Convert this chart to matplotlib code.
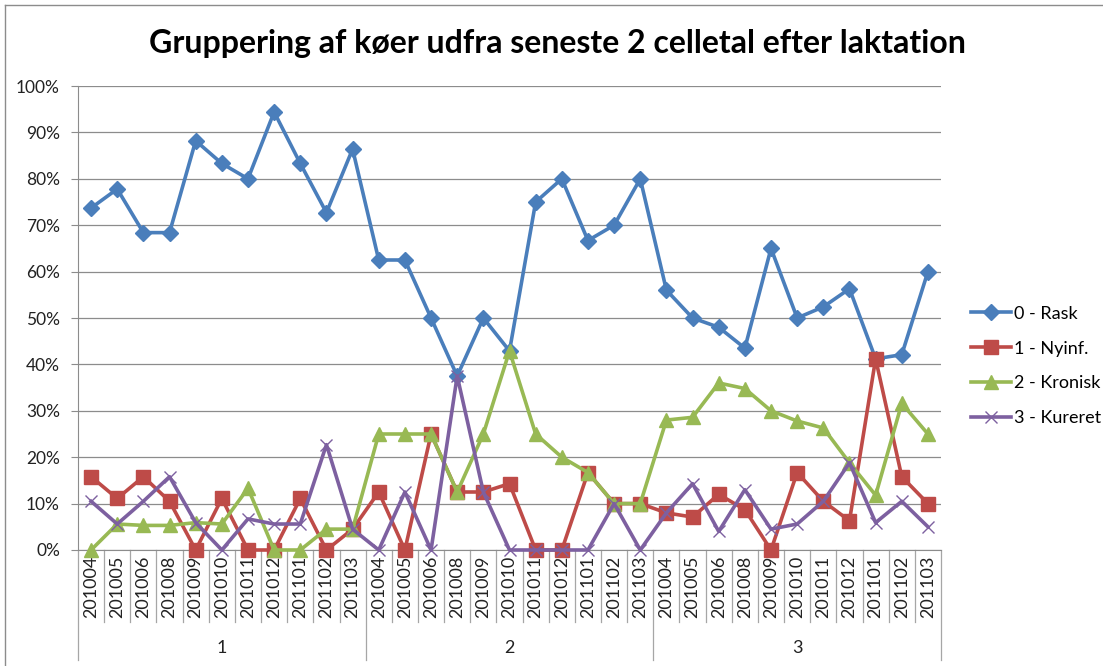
import numpy as np
import matplotlib
matplotlib.use("Agg")
import matplotlib.pyplot as plt
import matplotlib.transforms as mtransforms
from matplotlib.lines import Line2D
from matplotlib.ticker import PercentFormatter

# categories: 3 lactation groups x 11 months
months = ["201004", "201005", "201006", "201008", "201009", "201010",
          "201011", "201012", "201101", "201102", "201103"]
groups = ["1", "2", "3"]

# values in percent
rask = [73.7, 77.8, 68.4, 68.4, 88.2, 83.3, 80.0, 94.4, 83.3, 72.7, 86.4,
        62.5, 62.5, 50.0, 37.5, 50.0, 42.9, 75.0, 80.0, 66.7, 70.0, 80.0,
        56.0, 50.0, 48.0, 43.5, 65.0, 50.0, 52.4, 56.3, 41.2, 42.1, 60.0]
nyinf = [15.8, 11.1, 15.8, 10.5, 0.0, 11.1, 0.0, 0.0, 11.1, 0.0, 4.5,
         12.5, 0.0, 25.0, 12.5, 12.5, 14.3, 0.0, 0.0, 16.7, 10.0, 10.0,
         8.0, 7.1, 12.0, 8.7, 0.0, 16.7, 10.5, 6.3, 41.2, 15.8, 10.0]
kronisk = [0.0, 5.6, 5.3, 5.3, 5.9, 5.6, 13.3, 0.0, 0.0, 4.5, 4.5,
           25.0, 25.0, 25.0, 12.5, 25.0, 42.9, 25.0, 20.0, 16.7, 10.0, 10.0,
           28.0, 28.6, 36.0, 34.8, 30.0, 27.8, 26.3, 18.8, 11.8, 31.6, 25.0]
kureret = [10.5, 5.6, 10.5, 15.8, 5.9, 0.0, 6.7, 5.6, 5.6, 22.7, 4.5,
           0.0, 12.5, 0.0, 37.5, 12.5, 0.0, 0.0, 0.0, 0.0, 10.0, 0.0,
           8.0, 14.3, 4.0, 13.0, 4.5, 5.6, 10.5, 18.8, 5.9, 10.5, 5.0]

plt.rcParams['font.family'] = ['Lato', 'DejaVu Sans']

fig = plt.figure(figsize=(11.03, 6.66), dpi=100)
ax = fig.add_axes([78 / 1103, 116 / 666, 863 / 1103, 464 / 666])

x = np.arange(len(groups) * len(months))
series = [
    (rask, "0 - Rask", "#4A7EBB", "D", 8),
    (nyinf, "1 - Nyinf.", "#BE4B48", "s", 9.5),
    (kronisk, "2 - Kronisk", "#98B954", "^", 10),
    (kureret, "3 - Kureret", "#7D60A0", "x", 8.5),
]
handles = []
for vals, name, col, mk, ms in series:
    ln, = ax.plot(x, vals, color=col, lw=2.6, marker=mk, markersize=ms,
                  markeredgecolor=col, markerfacecolor=col, markeredgewidth=1.0,
                  clip_on=False, zorder=3, label=name)
    handles.append(ln)

ax.set_xlim(-0.5, len(x) - 0.5)
ax.set_ylim(0, 100)
ax.set_yticks(range(0, 101, 10))
ax.yaxis.set_major_formatter(PercentFormatter(decimals=0))
ax.tick_params(axis='y', length=5, color='#8c8c8c', labelsize=12.5, pad=8,
               labelcolor='#222222')
ax.set_xticks([])
ax.yaxis.grid(True, color='#8c8c8c', lw=0.9)
ax.set_axisbelow(True)
for s in ["top", "right"]:
    ax.spines[s].set_visible(False)
ax.spines["left"].set_color('#8c8c8c')
ax.spines["bottom"].set_color('#8c8c8c')

# two-level category axis
trans = mtransforms.blended_transform_factory(ax.transData, ax.transAxes)
for g, gname in enumerate(groups):
    for m, mname in enumerate(months):
        ax.text(g * len(months) + m, -0.012, mname, transform=trans,
                rotation=90, ha='center', va='top', fontsize=13,
                color='#222222')
    ax.text(g * len(months) + (len(months) - 1) / 2, -0.211, gname,
            transform=trans, ha='center', va='center', fontsize=13,
            color='#222222')
for k in range(len(x) + 1):
    low = -0.237 if k % len(months) == 0 else -0.155
    ax.plot([k - 0.5, k - 0.5], [0, low], transform=trans, color='#a6a6a6',
            lw=0.9, clip_on=False)

fig.suptitle("Gruppering af køer udfra seneste 2 celletal efter laktation",
             x=0.505, y=1 - 43 / 666, va='center', fontsize=23,
             fontweight='bold')

fig.legend(handles=handles, loc='center left',
           bbox_to_anchor=(964 / 1103, 1 - 366 / 666), frameon=False,
           fontsize=13, handlelength=2.2, labelspacing=1.05, handletextpad=0.15,
           borderpad=0.2, borderaxespad=0.2)

# chart border
fig.add_artist(Line2D([5 / 1103, 1], [1 - 5 / 666] * 2, color='#8c8c8c', lw=1))
fig.add_artist(Line2D([5 / 1103] * 2, [0, 1 - 5 / 666], color='#8c8c8c', lw=1))

fig.savefig("out.png", dpi=100)
